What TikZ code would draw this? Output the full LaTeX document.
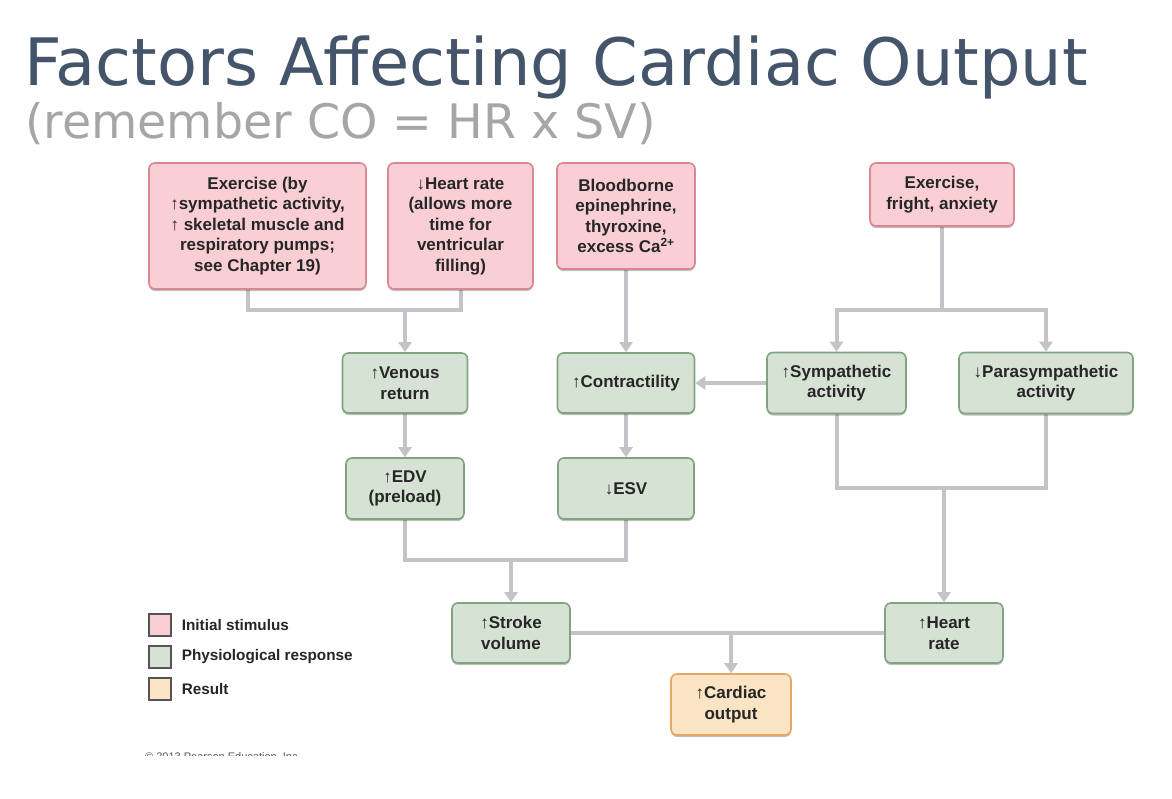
\documentclass[tikz,border=0pt]{standalone}
\usepackage{fontspec}
\setmainfont{Liberation Sans}
\newfontfamily\titlefont{DejaVu Sans}
\usepackage{tikz}
\usetikzlibrary{arrows.meta,backgrounds,calc,shadows}
\definecolor{stimfill}{HTML}{F9CED4}
\definecolor{stimdraw}{HTML}{D98892}
\definecolor{respfill}{HTML}{D6E2D3}
\definecolor{respdraw}{HTML}{7FA47F}
\definecolor{resfill}{HTML}{FAE4C4}
\definecolor{resdraw}{HTML}{E5A860}
\definecolor{linkgray}{HTML}{C4C4C8}
\definecolor{leggray}{HTML}{555555}
\definecolor{boxtext}{HTML}{262626}
\definecolor{titleblue}{HTML}{44546A}
\definecolor{subgray}{HTML}{A6A6A6}
\tikzset{
  box/.style={draw, line width=1.6pt, rounded corners=6pt, align=center, inner sep=0pt,
    font=\fontsize{17}{20.5}\selectfont\bfseries, text=boxtext,
    drop shadow={shadow xshift=0pt, shadow yshift=-2pt, opacity=0.25, fill=black}},
  stim/.style={box, fill=stimfill, draw=stimdraw},
  resp/.style={box, fill=respfill, draw=respdraw},
  result/.style={box, fill=resfill, draw=resdraw},
  link/.style={draw=linkgray, line width=4pt},
  linkarrow/.style={link, -{Triangle[width=13pt,length=10pt]}},
  legsq/.style={draw=leggray, line width=1.2pt, minimum width=22pt, minimum height=22pt, inner sep=0pt},
  legtext/.style={anchor=west, font=\fontsize{15.3}{18}\selectfont\bfseries, text=boxtext, inner sep=0pt}
}
\begin{document}
\begin{tikzpicture}[x=1pt,y=-1pt]
\useasboundingbox (0,0) rectangle (1172,798);
% title
\node[anchor=base west, inner sep=0, text=titleblue, font=\titlefont\fontsize{65.4}{70}\selectfont] (title) at (24,85) {Factors Affecting Cardiac Output};
\node[anchor=base west, inner sep=0, text=subgray, font=\titlefont\fontsize{47.5}{52}\selectfont] (subtitle) at (25,138) {(remember CO = HR x SV)};
% initial stimuli
\node[stim, minimum width=217pt, minimum height=126pt] (exercise) at (257.5,226) {Exercise (by\\ ↑sympathetic activity,\\ ↑ skeletal muscle and\\ respiratory pumps;\\ see Chapter 19)};
\node[stim, minimum width=145pt, minimum height=126pt] (lowhr) at (460.5,226) {↓Heart rate\\ (allows more\\ time for\\ ventricular\\ filling)};
\node[stim, minimum width=138pt, minimum height=106pt] (blood) at (626,216) {Bloodborne\\ epinephrine,\\ thyroxine,\\ excess Ca\textsuperscript{2+}};
\node[stim, minimum width=144pt, minimum height=63pt] (fright) at (942,194.5) {Exercise,\\ fright, anxiety};
% physiological responses
\node[resp, minimum width=125pt, minimum height=60pt] (venous) at (405,383) {↑Venous\\ return};
\node[resp, minimum width=137pt, minimum height=60pt] (contr) at (626,383) {↑Contractility};
\node[resp, minimum width=139pt, minimum height=61pt] (symp) at (836.5,383) {↑Sympathetic\\ activity};
\node[resp, minimum width=174pt, minimum height=61pt] (para) at (1046,383) {↓Parasympathetic\\ activity};
\node[resp, minimum width=118pt, minimum height=61pt] (edv) at (405,488.5) {↑EDV\\ (preload)};
\node[resp, minimum width=136pt, minimum height=61pt] (esv) at (626,488.5) {↓ESV};
\node[resp, minimum width=118pt, minimum height=60pt] (sv) at (511,633) {↑Stroke\\ volume};
\node[resp, minimum width=118pt, minimum height=60pt] (hr) at (944,633) {↑Heart\\ rate};
% result
\node[result, minimum width=120pt, minimum height=61pt] (co) at (731,704.5) {↑Cardiac\\ output};
% junctions
\coordinate (j1) at (405,310);
\coordinate (j2) at (942,310);
\coordinate (j3) at (511,560);
\coordinate (j4) at (944,488);
\coordinate (j5) at (731,633);
\begin{scope}[on background layer]
\fill[white] (0,0) rectangle (1172,798);
\draw[link] ([xshift=-10pt]exercise.south) |- (j1) -| (lowhr.south);
\draw[linkarrow] (j1) -- (venous);
\draw[linkarrow] (blood) -- (contr);
\draw[link] (fright) -- (j2);
\draw[linkarrow] (j2) -| (symp);
\draw[linkarrow] (j2) -| (para);
\draw[linkarrow] (symp) -- (contr);
\draw[linkarrow] (venous) -- (edv);
\draw[linkarrow] (contr) -- (esv);
\draw[link] (edv) |- (j3) -| (esv);
\draw[linkarrow] (j3) -- (sv);
\draw[link] (symp) |- (j4) -| (para);
\draw[linkarrow] (j4) -- (hr);
\draw[link] (sv) -- (hr);
\draw[linkarrow] (j5) -- (co);
\end{scope}
% legend
\node[legsq, fill=stimfill] (legstim) at (160,625) {};
\node[legsq, fill=respfill] (legresp) at (160,657) {};
\node[legsq, fill=resfill] (legres) at (160,689) {};
\node[legtext] at ([xshift=10pt]legstim.east) {Initial stimulus};
\node[legtext] at ([xshift=10pt]legresp.east) {Physiological response};
\node[legtext] at ([xshift=10pt]legres.east) {Result};
% copyright, cut off at the bottom
\begin{scope}
\clip (140,740) rectangle (420,755.5);
\node[anchor=base west, inner sep=0, text=leggray, font=\fontsize{11}{13}\selectfont] (copyright) at (145,760) {© 2013 Pearson Education, Inc.};
\end{scope}
\end{tikzpicture}
\end{document}
